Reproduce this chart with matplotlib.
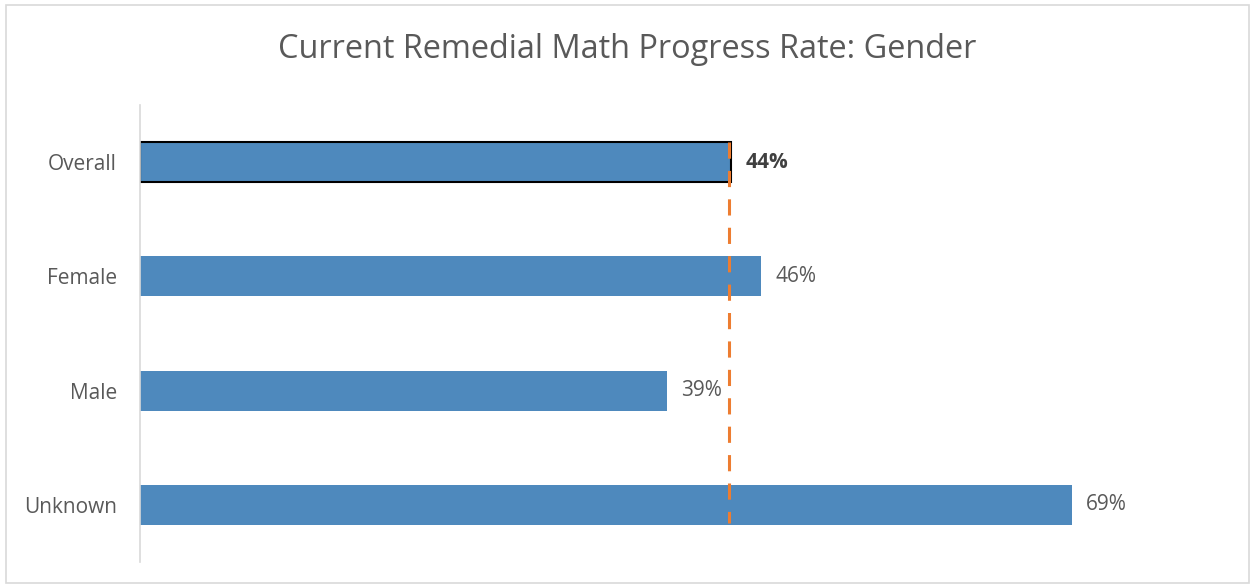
import matplotlib.pyplot as plt
from matplotlib.patches import Rectangle

categories = ['Overall', 'Female', 'Male', 'Unknown']
rates = [0.438, 0.46, 0.39, 0.69]
overall_rate = 0.436

bar_color = '#4E89BD'
text_color = '#595959'

plt.rcParams['font.family'] = ['Open Sans', 'DejaVu Sans']

fig = plt.figure(figsize=(12.54, 5.87), dpi=100)
ax = fig.add_axes([140 / 1254, 25 / 587, 1080 / 1254, 457 / 587])

y = list(range(len(categories)))
bars = ax.barh(y, rates, height=0.35, color=bar_color)
bars[0].set_edgecolor('black')
bars[0].set_linewidth(1.5)

for i, (yy, v) in enumerate(zip(y, rates)):
    ax.annotate(f'{v:.0%}', (v, yy), xytext=(10.5, 0), textcoords='offset points',
                va='center', ha='left', fontsize=15,
                color='#404040' if i == 0 else text_color,
                fontweight='bold' if i == 0 else 'normal')

ax.plot([overall_rate, overall_rate], [-0.175, 3.16], color='#ED7D31', lw=2.2,
        dashes=(5.3, 4))

ax.set_xlim(0, 0.8)
ax.set_ylim(3.5, -0.5)
ax.set_yticks(y)
ax.set_yticklabels(categories, fontsize=15, color=text_color)
ax.tick_params(axis='y', length=0, pad=16.5)
ax.set_xticks([])
for s in ['top', 'right', 'bottom']:
    ax.spines[s].set_visible(False)
ax.spines['left'].set_color('#D9D9D9')
ax.spines['left'].set_linewidth(1.2)

fig.text(0.5, 1 - 50 / 587, 'Current Remedial Math Progress Rate: Gender', ha='center', va='center',
         fontsize=23.4, color=text_color)

fig.patches.append(Rectangle((6 / 1254, 4 / 587), 1243 / 1254, 578 / 587, transform=fig.transFigure,
                             fill=False, edgecolor='#D9D9D9', lw=1.2))

fig.savefig('out.png', dpi=100)
